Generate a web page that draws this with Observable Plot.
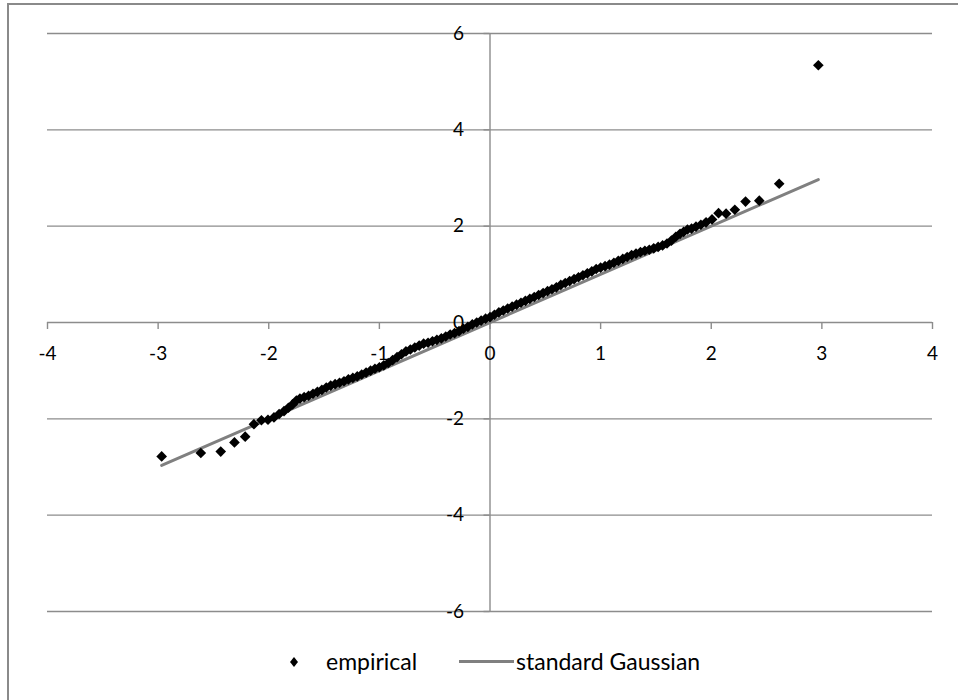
<!DOCTYPE html>
<html>
<head>
<meta charset="utf-8">
<script src="https://cdn.jsdelivr.net/npm/d3@7"></script>
<script src="https://cdn.jsdelivr.net/npm/@observablehq/plot@0.6"></script>
<style>
  html, body { margin: 0; padding: 0; background: #fff; }
  body { width: 958px; height: 700px; overflow: hidden; position: relative; font-family: Lato, "Open Sans", sans-serif; }
  #frame { position: absolute; left: 7px; top: 3px; width: 1100px; height: 1000px; border: 2px solid #8a8a8a; box-sizing: border-box; }
  #chart { position: absolute; left: 0; top: 0; }
  .leg { position: absolute; font-size: 23px; color: #000; line-height: 26px; white-space: nowrap; }
</style>
</head>
<body>
<div id="frame"></div>
<div id="chart"></div>
<svg class="leg" id="legDiamond" style="left:289px;top:656px" width="10" height="12"><polygon points="5,1 9,6 5,11 1,6" fill="#000"/></svg>
<div class="leg" style="left:326px;top:648px">empirical</div>
<div class="leg" style="left:459px;top:660px;width:55px;height:3px;background:#808080"></div>
<div class="leg" style="left:516px;top:648px">standard Gaussian</div>
<script>
// Axis ticks
const xTicks = [-4, -3, -2, -1, 0, 1, 2, 3, 4];
const yTicks = [-6, -4, -2, 0, 2, 4, 6];
const xTickLabels = ["-4", "-3", "-2", "-1", "0", "1", "2", "3", "4"];
const yTickLabels = ["-6", "-4", "-2", "0", "2", "4", "6"];

// Empirical quantiles (x: theoretical, y: sample)
const empX = [
  -2.968, -2.614, -2.434, -2.310, -2.213, -2.134, -2.066, -2.007, -1.953, -1.906,
  -1.862, -1.822, -1.785, -1.750, -1.718,
  -1.68, -1.64, -1.60, -1.56, -1.52, -1.48, -1.44, -1.40, -1.36, -1.32,
  -1.28, -1.24, -1.20, -1.16, -1.12, -1.08, -1.04, -1.00, -0.96, -0.92,
  -0.88, -0.84, -0.80, -0.76, -0.72, -0.68, -0.64, -0.60, -0.56, -0.52,
  -0.48, -0.44, -0.40, -0.36, -0.32, -0.28, -0.24, -0.20, -0.16, -0.12,
  -0.08, -0.04, 0.00, 0.04, 0.08, 0.12, 0.16, 0.20, 0.24, 0.28,
  0.32, 0.36, 0.40, 0.44, 0.48, 0.52, 0.56, 0.60, 0.64, 0.68,
  0.72, 0.76, 0.80, 0.84, 0.88, 0.92, 0.96, 1.00, 1.04, 1.08,
  1.12, 1.16, 1.20, 1.24, 1.28, 1.32, 1.36, 1.40, 1.44, 1.48,
  1.52, 1.56, 1.60, 1.64, 1.68,
  1.718, 1.750, 1.785, 1.822, 1.862, 1.906, 1.953, 2.007, 2.066, 2.134,
  2.213, 2.310, 2.434, 2.614, 2.968
];
const empY = [
  -2.78, -2.71, -2.68, -2.49, -2.37, -2.11, -2.03, -2.02, -1.97, -1.90,
  -1.84, -1.77, -1.70, -1.62, -1.58,
  -1.55, -1.52, -1.48, -1.44, -1.40, -1.35, -1.31, -1.28, -1.25, -1.22,
  -1.18, -1.15, -1.12, -1.08, -1.04, -1.00, -0.96, -0.93, -0.89, -0.84,
  -0.78, -0.72, -0.66, -0.60, -0.56, -0.52, -0.48, -0.44, -0.42, -0.39,
  -0.36, -0.33, -0.29, -0.25, -0.22, -0.18, -0.13, -0.09, -0.04, 0.00,
  0.04, 0.08, 0.11, 0.16, 0.21, 0.25, 0.29, 0.33, 0.37, 0.41,
  0.45, 0.49, 0.53, 0.57, 0.61, 0.65, 0.69, 0.73, 0.78, 0.82,
  0.86, 0.90, 0.94, 0.98, 1.02, 1.06, 1.11, 1.14, 1.17, 1.20,
  1.24, 1.28, 1.32, 1.36, 1.40, 1.43, 1.46, 1.49, 1.51, 1.54,
  1.57, 1.60, 1.64, 1.70, 1.78,
  1.84, 1.88, 1.93, 1.95, 1.99, 2.03, 2.08, 2.14, 2.27, 2.26,
  2.34, 2.51, 2.53, 2.88, 5.34
];

// Standard Gaussian reference line
const gaussX = [-2.968, 2.968];
const gaussY = [-2.968, 2.968];

const emp = empX.map((x, i) => ({x, y: empY[i]}));
const gauss = gaussX.map((x, i) => ({x, y: gaussY[i]}));

const gridColor = "#8c8c8c";

const chart = Plot.plot({
  width: 958,
  height: 640,
  marginTop: 0, marginRight: 0, marginBottom: 0, marginLeft: 0,
  x: {domain: [-4, 4], range: [47, 932], axis: null},
  y: {domain: [-6, 6], range: [611, 33], axis: null},
  style: {fontFamily: "Lato, 'Open Sans', sans-serif", fontSize: "19px", background: "transparent", overflow: "visible"},
  marks: [
    Plot.ruleY(yTicks, {x1: -4, x2: 4, stroke: gridColor, strokeWidth: 1.4}),
    Plot.ruleX([0], {y1: -6, y2: 6, stroke: gridColor, strokeWidth: 1.4}),
    Plot.ruleX(xTicks, {y1: 0, y2: 0, insetBottom: -7, stroke: gridColor, strokeWidth: 1.4}),
    Plot.ruleY(yTicks, {x1: 0, x2: 0, insetLeft: -6, stroke: gridColor, strokeWidth: 1.4}),
    Plot.line(gauss, {x: "x", y: "y", stroke: "#808080", strokeWidth: 3}),
    Plot.dot(emp, {x: "x", y: "y", symbol: "diamond2", r: 4.8, fill: "#000", stroke: "none"}),
    Plot.text(xTicks, {x: d => d, y: 0, dy: 31, text: (d, i) => xTickLabels[i], fill: "#000"}),
    Plot.text(yTicks, {x: 0, y: d => d, dx: -26, textAnchor: "end", text: (d, i) => yTickLabels[i], fill: "#000"})
  ]
});
document.getElementById("chart").appendChild(chart);
</script>
</body>
</html>
